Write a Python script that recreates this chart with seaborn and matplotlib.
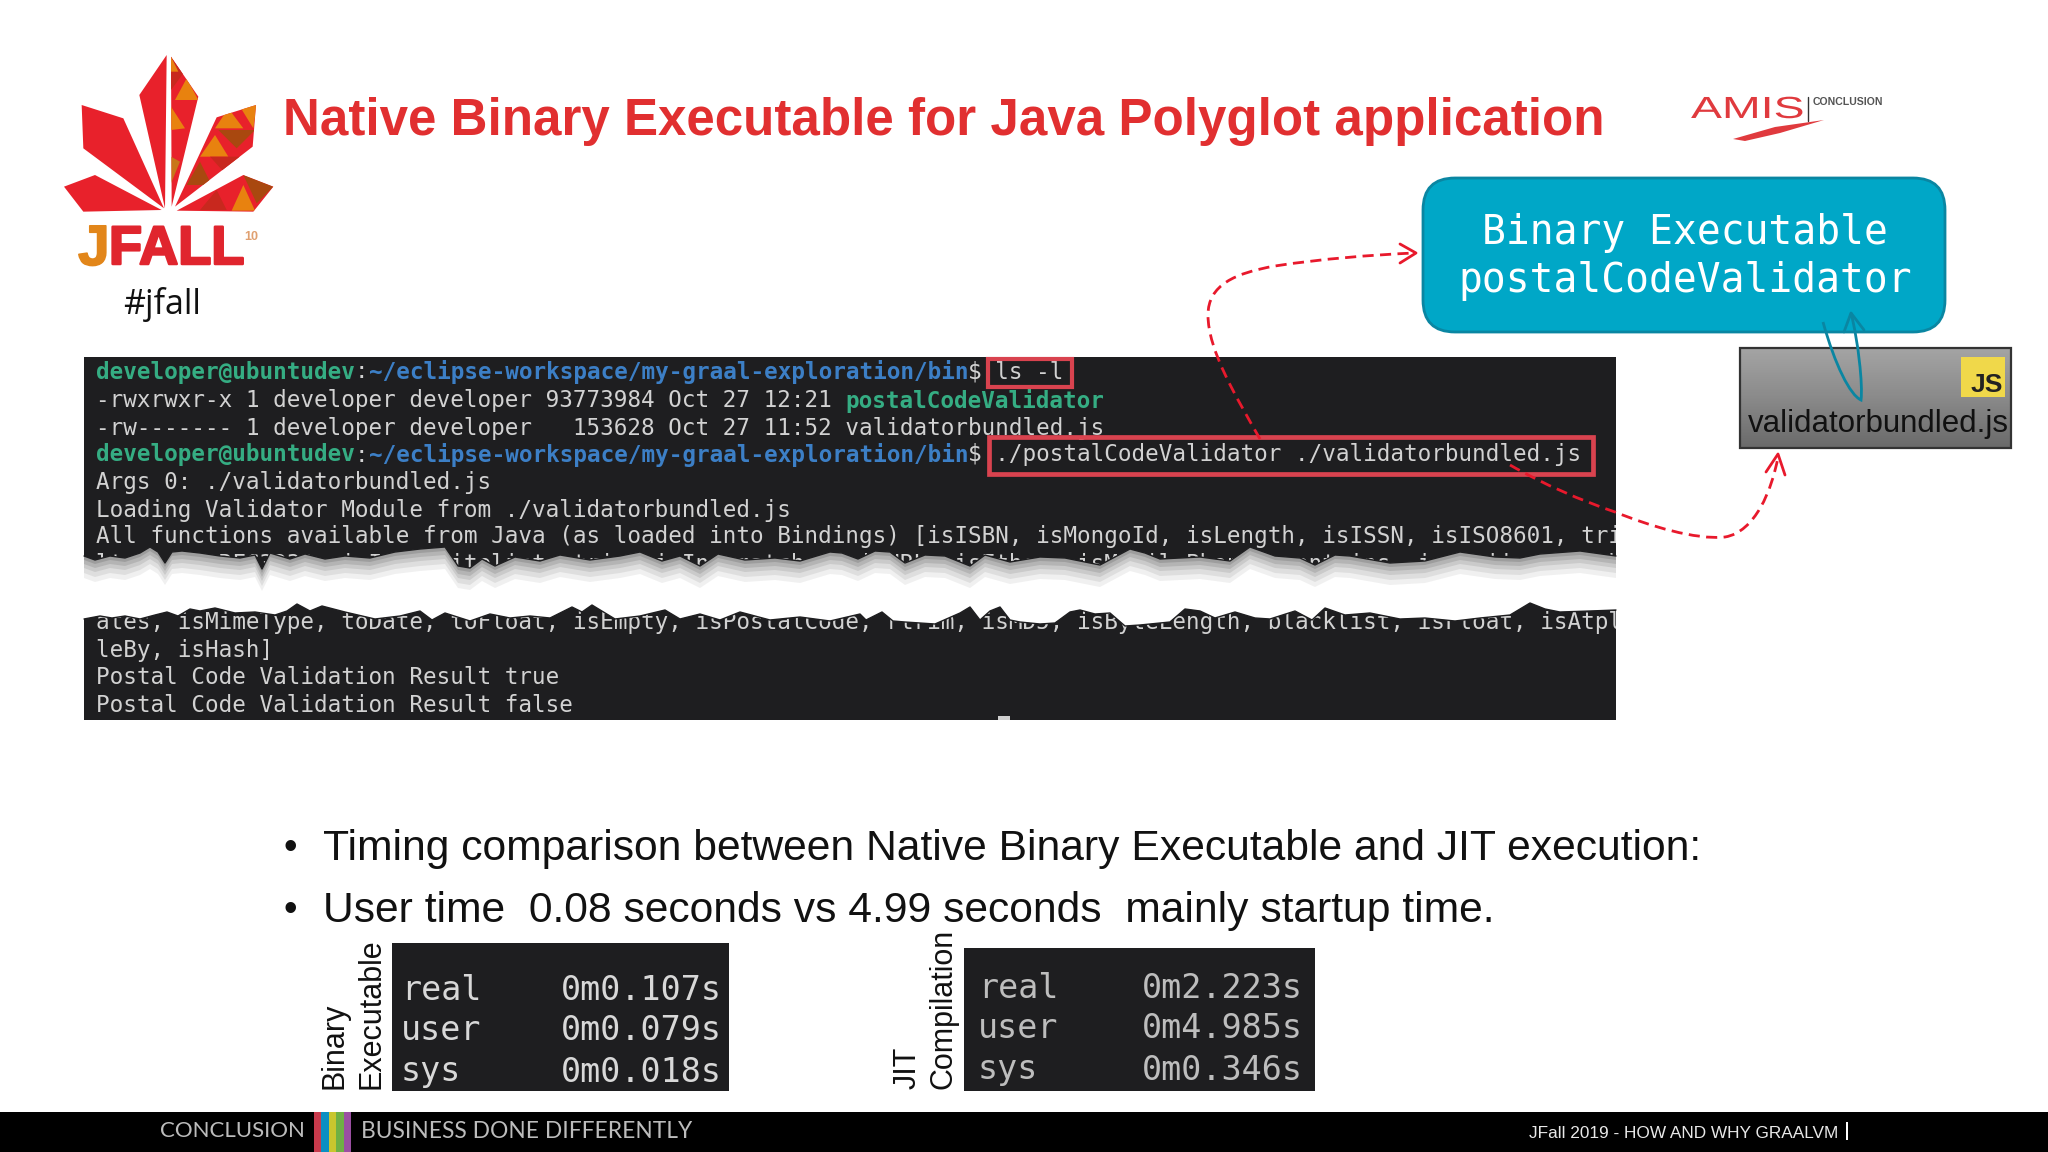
import numpy as np
import matplotlib
matplotlib.use("Agg")
import matplotlib.pyplot as plt
import matplotlib.patheffects as pe
from matplotlib.patches import Rectangle, FancyBboxPatch, Polygon, PathPatch
from matplotlib.path import Path
from matplotlib.transforms import Affine2D
from matplotlib.colors import LinearSegmentedColormap
import seaborn as sns

sns.set_theme(style="white")
SANS = "Liberation Sans"
MONO = "DejaVu Sans Mono"

# ---------- content ----------
TITLE = "Native Binary Executable for Java Polyglot application"
PROMPT_USER = "developer@ubuntudev"
PROMPT_PATH = "~/eclipse-workspace/my-graal-exploration/bin"
CMD_LS = " ls -l"
CMD_RUN = " ./postalCodeValidator ./validatorbundled.js"
LS_ROW_1 = "-rwxrwxr-x 1 developer developer 93773984 Oct 27 12:21 "
LS_ROW_1_FILE = "postalCodeValidator"
LS_ROW_2 = "-rw------- 1 developer developer   153628 Oct 27 11:52 validatorbundled.js"
OUTPUT_UPPER = ["Args 0: ./validatorbundled.js",
                "Loading Validator Module from ./validatorbundled.js",
                "All functions available from Java (as loaded into Bindings) [isISBN, isMongoId, isLength, isISSN, isISO8601, trim,",
                "ltrim, isRFC3339, isIP, whitelist, trim, isIn, matches, isURL, isEther, isMobilePhone, contains, isAscii, isAlpha"]
OUTPUT_LOWER = ["ates, isMimeType, toDate, toFloat, isEmpty, isPostalCode, rtrim, isMD5, isByteLength, blacklist, isFloat, isAtpl",
                "leBy, isHash]",
                "Postal Code Validation Result true",
                "Postal Code Validation Result false"]
BULLETS = ["Timing comparison between Native Binary Executable and JIT execution:",
           "User time  0.08 seconds vs 4.99 seconds  mainly startup time."]
TIME_LABELS = ["real", "user", "sys"]
BINARY_TIMES = ["0m0.107s", "0m0.079s", "0m0.018s"]
JIT_TIMES = ["0m2.223s", "0m4.985s", "0m0.346s"]
STRIP_COLORS = ["#c83a4c", "#0b8fc2", "#c9c62e", "#6fb044", "#9a4fa2"]

# torn paper edges
TEAR_TOP = [(84, 556), (95, 560), (110, 556), (125, 558), (140, 553), (150, 547), (158, 552), (165, 563), (172, 552),
            (182, 551), (200, 553), (220, 556), (240, 558), (255, 555), (262, 569), (270, 553), (290, 559), (305, 554),
            (325, 559), (345, 556), (370, 558), (395, 552), (420, 549), (445, 547), (458, 566), (470, 568), (482, 559),
            (495, 566), (515, 557), (540, 561), (560, 555), (590, 560), (620, 556), (640, 552), (662, 561), (680, 556),
            (700, 566), (718, 554), (745, 560), (775, 558), (800, 561), (830, 552), (842, 553), (858, 559), (875, 551),
            (890, 552), (905, 563), (925, 555), (945, 556), (970, 566), (985, 555), (1010, 562), (1040, 557), (1065, 558),
            (1100, 565), (1130, 549), (1145, 553), (1160, 559), (1200, 557), (1230, 561), (1250, 547), (1275, 556),
            (1300, 558), (1315, 565), (1335, 555), (1350, 556), (1390, 563), (1425, 561), (1460, 552), (1495, 557),
            (1520, 558), (1540, 554), (1580, 551), (1616, 556)]
TEAR_BOTTOM = [(84, 619), (100, 616), (112, 618), (125, 616), (140, 619), (155, 615), (167, 612), (178, 616), (190, 609),
               (200, 611), (215, 608), (235, 613), (255, 612), (275, 615), (287, 611), (297, 604), (310, 611), (322, 606),
               (345, 612), (375, 619), (400, 616), (420, 611), (432, 620), (445, 613), (470, 621), (490, 614), (510, 618),
               (530, 616), (550, 618), (572, 607), (582, 612), (592, 605), (615, 619), (640, 616), (665, 610), (680, 619),
               (700, 614), (720, 620), (740, 612), (770, 620), (800, 617), (830, 621), (860, 614), (866, 620), (882, 612),
               (893, 621), (905, 622), (935, 624), (960, 613), (970, 607), (980, 620), (990, 611), (1000, 607), (1010, 620),
               (1020, 622), (1040, 624), (1055, 623), (1070, 612), (1080, 610), (1095, 614), (1110, 613), (1125, 626),
               (1140, 625), (1170, 622), (1185, 609), (1200, 611), (1215, 618), (1235, 612), (1255, 618), (1270, 619),
               (1295, 611), (1312, 620), (1325, 608), (1345, 615), (1370, 613), (1400, 619), (1425, 618), (1455, 621),
               (1480, 618), (1510, 615), (1530, 603), (1545, 609), (1560, 612), (1590, 611), (1616, 610)]

# ---------- colours ----------
TERM_BG = "#1e1e20"
TERM_TXT = "#d2d2d2"
GREEN = "#35ad83"
BLUE = "#3c7fc6"
BOX_RED = "#d9434f"
ARROW_RED = "#e8192c"
TITLE_RED = "#e12f30"
TEAL = "#00a7c7"
TEAL_DK = "#0a86a2"

fig = plt.figure(figsize=(20.48, 11.52), dpi=100, facecolor="white")
ax = fig.add_axes([0, 0, 1, 1])
ax.set_xlim(0, 2048)
ax.set_ylim(1152, 0)
sns.despine(ax=ax, left=True, bottom=True)
ax.set_xticks([])
ax.set_yticks([])
ax.grid(False)
ax.set_facecolor("white")


def T(x, y, s, **kw):
    kw.setdefault("va", "center")
    kw.setdefault("family", SANS)
    kw.setdefault("color", "#111111")
    return ax.text(x, y, s, **kw)


class StretchX(pe.AbstractPathEffect):
    """Widen a text horizontally around a pixel column, keeping it real text."""

    def __init__(self, x0, k):
        super().__init__()
        self.x0, self.k = x0, k

    def draw_path(self, renderer, gc, tpath, affine, rgbFace=None):
        stretch = Affine2D().translate(-self.x0, 0).scale(self.k, 1).translate(self.x0, 0)
        renderer.draw_path(gc, tpath, affine + stretch, rgbFace)


# ---------- logo ----------
def lg(points):
    return [(40 + px / 3, 40 + py / 3) for px, py in points]


PETALS = [[(380, 45), (298, 165), (375, 505)],
          [(393, 50), (475, 170), (395, 500)],
          [(125, 195), (250, 235), (372, 505), (130, 325)],
          [(72, 440), (165, 405), (365, 510), (130, 515)],
          [(648, 195), (530, 232), (405, 500), (638, 320)],
          [(700, 440), (610, 405), (410, 512), (640, 515)]]
LOGO_ORANGE = "#e8820f"
LOGO_DARK = "#a9480f"
LOGO_MID = "#c8281e"
FACETS = [(1, (405, 180), (475, 180), (440, 115), LOGO_ORANGE),
          (1, (393, 270), (435, 265), (393, 200), LOGO_ORANGE),
          (1, (393, 430), (420, 365), (393, 350), "#c8761a"),
          (1, (393, 50), (430, 100), (393, 150), LOGO_MID),
          (1, (393, 50), (415, 95), (393, 95), LOGO_ORANGE),
          (4, (525, 265), (610, 265), (565, 205), LOGO_ORANGE),
          (4, (535, 270), (645, 270), (590, 325), LOGO_DARK),
          (4, (480, 350), (565, 350), (525, 285), LOGO_ORANGE),
          (4, (440, 435), (515, 435), (480, 365), LOGO_DARK),
          (4, (510, 350), (600, 350), (555, 400), LOGO_MID),
          (4, (400, 500), (480, 440), (440, 470), LOGO_ORANGE),
          (4, (600, 200), (650, 195), (640, 265), LOGO_ORANGE),
          (5, (575, 512), (645, 512), (610, 435), LOGO_ORANGE),
          (5, (610, 405), (700, 440), (650, 490), LOGO_DARK),
          (5, (480, 510), (560, 510), (530, 450), LOGO_MID)]
petal_patches = []
for pts in PETALS:
    p = Polygon(lg(pts), closed=True, fc="#e8212b", ec="none", zorder=2)
    ax.add_patch(p)
    petal_patches.append(p)
for idx, a, b, c, col in FACETS:
    f = Polygon(lg([a, b, c]), closed=True, fc=col, ec="none", zorder=3)
    ax.add_patch(f)
    f.set_clip_path(petal_patches[idx])
T(78, 250, "J", fontsize=41, weight="bold", color="#e2861a", zorder=3,
  path_effects=[pe.withStroke(linewidth=1.2, foreground="#e2861a")])
ax.add_patch(Rectangle((101, 247), 5, 5, fc="#e2861a", ec="none"))
T(109, 250, "FALL", fontsize=39, weight="bold", color="#e0252e", zorder=3,
  path_effects=[pe.withStroke(linewidth=1.8, foreground="#e0252e")])
T(251, 237, "10", fontsize=9, color="#e0a070", ha="center", weight="bold")
T(162, 305, "#jfall", fontsize=24.5, ha="center", family="Open Sans", color="#111111")

# ---------- title + AMIS ----------
T(283, 122, TITLE, fontsize=36.8, weight="bold", color=TITLE_RED)
T(1691, 110, "AMIS", fontsize=22, color="#e03a3e", path_effects=[StretchX(1691, 1.52)])
ax.plot([1808, 1808], [97, 121], color="#333333", lw=1)
T(1813, 102, "CONCLUSION", fontsize=7.6, color="#555555", weight="bold")
ax.add_patch(Polygon([(1733, 139), (1775, 127), (1824, 120), (1780, 133), (1745, 141)], fc="#e03a3e", ec="none"))

# ---------- main terminal ----------
X0, CW = 96, 13.63
term = Rectangle((84, 357), 1532, 363, fc=TERM_BG, ec="none", zorder=1)
ax.add_patch(term)
FS = 16.3


def mono(col, y, s, color=TERM_TXT, weight="normal"):
    t = T(X0 + col * CW, y, s, family=MONO, fontsize=FS, color=color, zorder=2, weight=weight, clip_on=True)
    t.set_clip_path(term)
    return t


def prompt(y, cmd):
    mono(0, y, PROMPT_USER, GREEN, "bold")
    mono(len(PROMPT_USER), y, ":")
    mono(len(PROMPT_USER) + 1, y, PROMPT_PATH, BLUE, "bold")
    mono(len(PROMPT_USER) + 1 + len(PROMPT_PATH), y, "$" + cmd)


prompt(372, CMD_LS)
mono(0, 401, LS_ROW_1)
mono(len(LS_ROW_1), 401, LS_ROW_1_FILE, GREEN, "bold")
mono(0, 428, LS_ROW_2)
prompt(455, CMD_RUN)
for y, s in zip([482, 510, 537, 564], OUTPUT_UPPER):
    mono(0, y, s)
for y, s in zip([623, 650, 677, 705], OUTPUT_LOWER):
    mono(0, y, s)

ax.add_patch(Rectangle((988, 359), 84, 28, fc="none", ec=BOX_RED, lw=3, zorder=4))
ax.add_patch(Rectangle((989, 437), 604, 37, fc="none", ec=BOX_RED, lw=3.4, zorder=4))

# torn gap with soft shadow
TEAR_TOP_X, TEAR_TOP_Y = map(list, zip(*TEAR_TOP))
TEAR_BOTTOM_X, TEAR_BOTTOM_Y = map(list, zip(*TEAR_BOTTOM))
ax.add_patch(Polygon(TEAR_TOP + TEAR_BOTTOM[::-1], fc="white", ec="none", zorder=5))
for off, alpha in zip([22, 17, 12, 8, 4], [.08, .1, .13, .16, .2]):
    lower = [(x, y + off) for x, y in TEAR_TOP]
    ax.add_patch(Polygon(TEAR_TOP + lower[::-1], fc="#444444", alpha=alpha, ec="none", zorder=5.1))
sns.lineplot(x=TEAR_TOP_X, y=TEAR_TOP_Y, sort=False, estimator=None, color=TERM_BG, lw=1, ax=ax, zorder=5.2)
sns.lineplot(x=TEAR_BOTTOM_X, y=TEAR_BOTTOM_Y, sort=False, estimator=None, color=TERM_BG, lw=1, ax=ax, zorder=5.2)
ax.add_patch(Rectangle((998, 716), 12, 4, fc="#cfcfcf", ec="none", zorder=5))

# ---------- callout + js box ----------
ax.add_patch(FancyBboxPatch((1423 + 32, 178 + 32), 522 - 64, 154 - 64,
                            boxstyle="round,pad=32,rounding_size=32",
                            fc=TEAL, ec=TEAL_DK, lw=2, zorder=3))
T(1685, 233, "Binary Executable", family=MONO, fontsize=28.5, color="white", ha="center", zorder=4)
T(1685, 281, "postalCodeValidator", family=MONO, fontsize=28.5, color="white", ha="center", zorder=4)

GREY_CMAP = LinearSegmentedColormap.from_list("g", ["#a4a4a4", "#8a8a8a", "#6a6a6a"])
ax.imshow(np.linspace(0, 1, 64)[:, None], cmap=GREY_CMAP, extent=(1740, 2011, 448, 348),
          origin="upper", aspect="auto", zorder=3)
ax.set_xlim(0, 2048)
ax.set_ylim(1152, 0)
ax.add_patch(Rectangle((1740, 348), 271, 100, fc="none", ec="#333333", lw=1.6, zorder=4))
ax.add_patch(Rectangle((1961, 357), 44, 40, fc="#f0d84a", ec="none", zorder=4))
T(2003, 385, "JS", fontsize=19, weight="bold", color="#222222", ha="right", zorder=5)
T(1748, 424, "validatorbundled.js", fontsize=22.5, color="#111111", zorder=5)

teal_path = Path([(1823, 322), (1835, 365), (1850, 395), (1861, 400), (1863, 385), (1858, 340), (1851, 313)],
                 [Path.MOVETO] + [Path.CURVE4] * 6)
ax.add_patch(PathPatch(teal_path, fc="none", ec=TEAL_DK, lw=2, zorder=6))
ax.plot([1844, 1851, 1864], [332, 313, 330], color=TEAL_DK, lw=2, zorder=6)

# ---------- red connectors ----------
DASH = (0, (4, 2.3))
red1 = Path([(1260, 439), (1235, 395), (1208, 350), (1208, 315), (1208, 285), (1235, 273), (1275, 266),
             (1320, 259), (1370, 255), (1414, 253)], [Path.MOVETO] + [Path.CURVE4] * 9)
red2 = Path([(1510, 465), (1545, 485), (1580, 500), (1615, 512), (1650, 526), (1695, 540), (1725, 537),
             (1755, 532), (1772, 490), (1778, 457)], [Path.MOVETO] + [Path.CURVE4] * 9)
for pth in (red1, red2):
    ax.add_patch(PathPatch(pth, fc="none", ec=ARROW_RED, lw=2, ls=DASH, zorder=7))
ax.plot([1400, 1416, 1400], [244, 253, 263], color=ARROW_RED, lw=2, zorder=7)
ax.plot([1766, 1778, 1785], [472, 454, 475], color=ARROW_RED, lw=2, zorder=7)

# ---------- bullets ----------
for y, s in zip([849, 911], BULLETS):
    T(290, y, "\u2022", fontsize=28, ha="center")
    T(323, y, s, fontsize=30.7)

# ---------- timing panels ----------
PANEL_TXT = ["#d8d8d8", "#bdbdbd"]
for (x0, x1, y0, lx, vx, rows, times, col) in [
        (392, 729, 943, 401, 561, [990, 1031, 1072], BINARY_TIMES, PANEL_TXT[0]),
        (964, 1315, 948, 978, 1142, [988, 1028, 1070], JIT_TIMES, PANEL_TXT[1])]:
    ax.add_patch(Rectangle((x0, y0), x1 - x0, 1091 - y0, fc=TERM_BG, ec="none"))
    for y, lab, val in zip(rows, TIME_LABELS, times):
        T(lx, y, lab, family=MONO, fontsize=24, color=col)
        T(vx, y, val, family=MONO, fontsize=24, color=col)
for x, s in [(335, "Binary"), (371, "Executable"), (908, "JIT"), (943, "Compilation")]:
    T(x, 1089, s, fontsize=22, rotation=90, ha="center", va="bottom", rotation_mode="default")

# ---------- footer ----------
ax.add_patch(Rectangle((0, 1112), 2048, 40, fc="black", ec="none", zorder=3))
strip = sns.color_palette(STRIP_COLORS)
for i, c in enumerate(strip):
    ax.add_patch(Rectangle((314 + i * 7.4, 1112), 7.4, 40, fc=c, ec="none", zorder=4))
T(160, 1131, "CONCLUSION", family="Lato", fontsize=16, color="#bcbcbc", zorder=4)
T(361, 1131, "BUSINESS DONE DIFFERENTLY", family="Lato", fontsize=16.4, color="#bcbcbc", zorder=4)
T(1529, 1133, "JFall 2019 - HOW AND WHY GRAALVM", fontsize=12.45, color="#e8e8e8", zorder=4)
ax.add_patch(Rectangle((1846, 1122), 2, 18, fc="white", ec="none", zorder=4))

fig.savefig("out.png", dpi=100, facecolor="white")
